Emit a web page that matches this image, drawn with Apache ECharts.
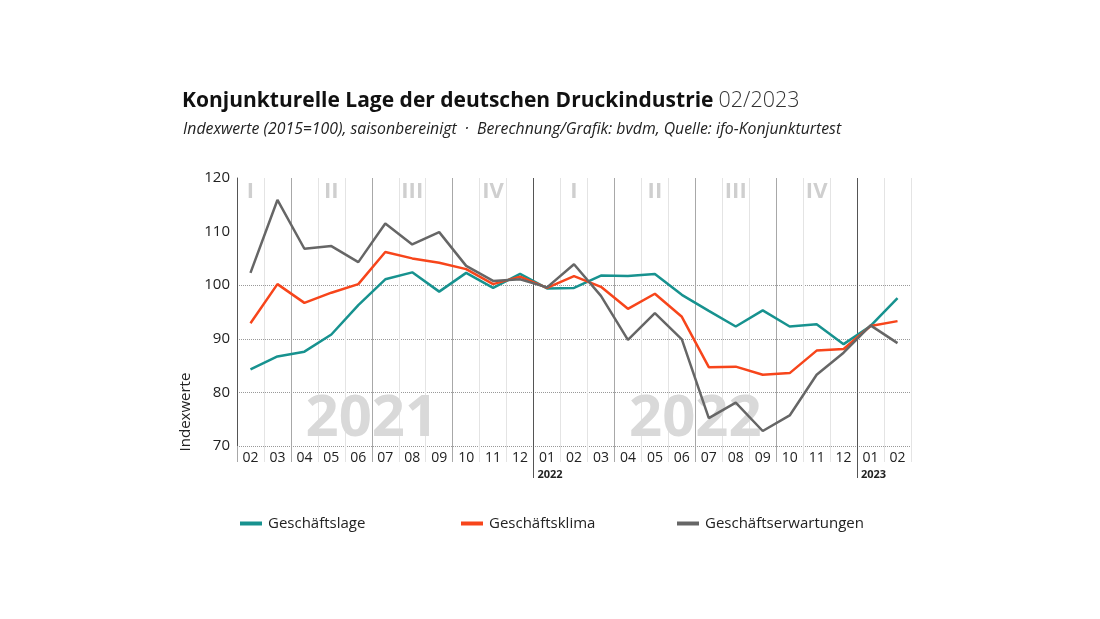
<!DOCTYPE html>
<html>
<head>
<meta charset="utf-8">
<script src="https://cdn.jsdelivr.net/npm/echarts@6/dist/echarts.min.js"></script>
<style>
  html, body { margin: 0; padding: 0; background: #fff; }
  #chart { width: 1100px; height: 619px; }
</style>
</head>
<body>
<div id="chart"></div>
<script>
// months 02/2021 .. 02/2023
const months = [
  '2021-02', '2021-03', '2021-04', '2021-05', '2021-06', '2021-07', '2021-08', '2021-09', '2021-10', '2021-11', '2021-12',
  '2022-01', '2022-02', '2022-03', '2022-04', '2022-05', '2022-06', '2022-07', '2022-08', '2022-09', '2022-10', '2022-11', '2022-12',
  '2023-01', '2023-02'
];
const geschaeftslage = [84.3, 86.7, 87.6, 90.8, 96.3, 101.1, 102.4, 98.8, 102.3, 99.5, 102.1,
  99.4, 99.5, 101.8, 101.7, 102.1, 98.2, 95.2, 92.3, 95.3, 92.3, 92.7, 89.0, 92.4, 97.6];
const geschaeftsklima = [92.9, 100.2, 96.7, 98.6, 100.2, 106.2, 105.0, 104.2, 103.0, 100.2, 101.6,
  99.5, 101.7, 99.7, 95.6, 98.4, 94.1, 84.7, 84.8, 83.3, 83.6, 87.8, 88.1, 92.4, 93.3];
const geschaeftserwartungen = [102.3, 115.9, 106.8, 107.3, 104.3, 111.5, 107.6, 109.9, 103.6, 100.8, 101.1,
  99.6, 103.9, 98.0, 89.8, 94.8, 89.9, 75.2, 78.1, 72.8, 75.7, 83.3, 87.4, 92.5, 89.2];
const yTicks = [70, 80, 90, 100, 110, 120];
// quarter labels placed at a month of that quarter
const quarterLabels = [['I', '2021-02'], ['II', '2021-05'], ['III', '2021-08'], ['IV', '2021-11'],
  ['I', '2022-02'], ['II', '2022-05'], ['III', '2022-08'], ['IV', '2022-11']];
const yearMarks = [['2021', '2021-06'], ['2022', '2022-06']];

const FONT = 'Open Sans';
const colors = ['#17928f', '#f7451b', '#666666'];

const chart = echarts.init(document.getElementById('chart'));

const month = v => String(v).slice(5);
const isQuarterStart = v => ['04', '07', '10'].indexOf(month(v)) >= 0;
const isYearStart = v => month(v) === '01';

// boundaries between months: one slot per month start plus the end of the range
const boundaries = months.concat(['2023-03']);

function sepAxis(color, len, tickFilter, lineFilter) {
  return {
    type: 'category',
    data: boundaries,
    position: 'bottom',
    boundaryGap: false,
    axisLine: { show: false },
    axisLabel: { show: false },
    axisTick: { show: true, length: len, lineStyle: { color: color, width: 1 },
      interval: (i, v) => tickFilter(i, v) },
    splitLine: { show: true, lineStyle: { color: color, width: 1 },
      interval: (i, v) => lineFilter(i, v) }
  };
}

const axisMain = {
  type: 'category',
  data: months,
  position: 'bottom',
  boundaryGap: true,
  axisLine: { show: false },
  axisTick: { show: true, length: 16, interval: 0, lineStyle: { color: '#e4e4e4', width: 1 } },
  splitLine: { show: true, interval: 0, lineStyle: { color: '#e4e4e4', width: 1 } },
  axisLabel: {
    show: true, interval: 0, margin: 4, fontFamily: FONT, fontSize: 14, color: '#222', lineHeight: 16,
    formatter: v => isYearStart(v) ? month(v) + '\n{y|' + v.slice(0, 4) + '}' : month(v),
    rich: { y: { fontFamily: FONT, fontSize: 11, fontWeight: 'bold', color: '#222', lineHeight: 18, padding: [0, 0, 0, 6] } }
  }
};
const axisQuarter = sepAxis('#a8a8a8', 16, (i, v) => i === 0 || isQuarterStart(v), (i, v) => isQuarterStart(v));
const axisYear = sepAxis('#555555', 32, (i, v) => isYearStart(v), (i, v) => isYearStart(v));

function lineSeries(name, data, color) {
  return {
    name: name, type: 'line', data: data, xAxisIndex: 0,
    symbol: 'none', smooth: false,
    lineStyle: { color: color, width: 2.5 },
    itemStyle: { color: color },
    z: 5
  };
}

const legendBase = {
  top: 511, icon: 'rect', itemWidth: 22, itemHeight: 4, itemGap: 0,
  textStyle: { fontFamily: FONT, fontSize: 15, color: '#222', padding: [0, 0, 0, 1] }
};

const option = {
  animation: false,
  backgroundColor: '#fff',
  title: [
    {
      left: 177, top: 85,
      text: '{b|Konjunkturelle Lage der deutschen Druckindustrie} {l|02/2023}',
      textStyle: {
        rich: {
          b: { fontFamily: FONT, fontSize: 21, fontWeight: 'bold', color: '#111' },
          l: { fontFamily: FONT, fontSize: 21.5, fontWeight: 300, color: '#333' }
        }
      }
    },
    {
      left: 178, top: 116,
      text: 'Indexwerte (2015=100), saisonbereinigt  ·  Berechnung/Grafik: bvdm, Quelle: ifo-Konjunkturtest',
      textStyle: { fontFamily: FONT, fontSize: 15.8, fontStyle: 'italic', fontWeight: 'normal', color: '#222' }
    }
  ],
  legend: [
    Object.assign({ left: 235, data: ['Geschäftslage'] }, legendBase),
    Object.assign({ left: 456, data: ['Geschäftsklima'] }, legendBase),
    Object.assign({ left: 672, data: ['Geschäftserwartungen'] }, legendBase)
  ],
  grid: { left: 237, right: 189, top: 178, bottom: 173, containLabel: false },
  xAxis: [axisMain, axisQuarter, axisYear],
  yAxis: {
    type: 'value', min: 70, max: 120, interval: 10,
    axisLine: { show: true, lineStyle: { color: '#555', width: 1 } },
    axisTick: { show: false },
    axisLabel: { margin: 7, fontFamily: FONT, fontSize: 15, color: '#222',
      formatter: v => yTicks.indexOf(v) >= 0 ? String(v) : '' },
    splitLine: { show: true, lineStyle: { type: 'dotted', width: 1,
      color: ['#999', '#999', '#999', '#999', 'rgba(0,0,0,0)', 'rgba(0,0,0,0)'] } }
  },
  series: [
    lineSeries('Geschäftslage', geschaeftslage, colors[0]),
    lineSeries('Geschäftsklima', geschaeftsklima, colors[1]),
    lineSeries('Geschäftserwartungen', geschaeftserwartungen, colors[2])
  ]
};

chart.setOption(option);

// annotations positioned through the axes
const half = chart.convertToPixel({ gridIndex: 0 }, [months[1], 100])[0] - chart.convertToPixel({ gridIndex: 0 }, [months[0], 100])[0];
const elements = [];
quarterLabels.forEach(([label, m]) => {
  const p = chart.convertToPixel({ gridIndex: 0 }, [m, 117.4]);
  elements.push({ type: 'text', x: p[0], y: p[1], z: 1,
    style: { text: label, fontFamily: FONT, fontSize: 22, fontWeight: 'bold', fill: '#cfcfcf', align: 'center', verticalAlign: 'middle' } });
});
yearMarks.forEach(([label, m]) => {
  const p = chart.convertToPixel({ gridIndex: 0 }, [m, 74.9]);
  elements.push({ type: 'text', x: p[0] + half / 2, y: p[1], z: 1,
    style: { text: label, fontFamily: FONT, fontSize: 58, fontWeight: 'bold', fill: '#d9d9d9', align: 'center', verticalAlign: 'middle' } });
});
elements.push({ type: 'text', x: 186, y: 412, rotation: Math.PI / 2, z: 1,
  style: { text: 'Indexwerte', fontFamily: FONT, fontSize: 15, fill: '#222', align: 'center', verticalAlign: 'middle' } });
chart.setOption({ graphic: { elements: elements } });
</script>
</body>
</html>
